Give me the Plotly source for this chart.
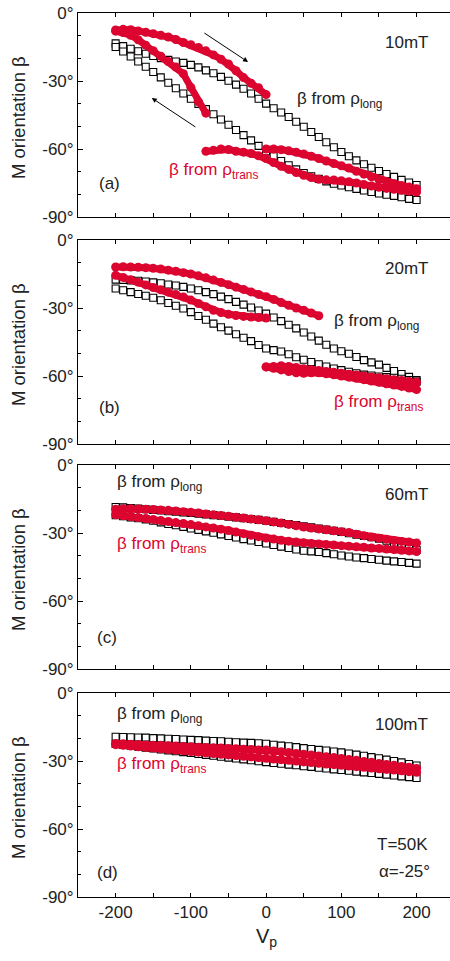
import plotly.graph_objects as go

# ---------------- data ----------------
V_FULL = [-200, -190, -180, -170, -160, -150, -140, -130, -120, -110,
          -100, -90, -80, -70, -60, -50, -40, -30, -20, -10,
          0, 10, 20, 30, 40, 50, 60, 70, 80, 90,
          100, 110, 120, 130, 140, 150, 160, 170, 180, 190, 200]
V_NEG = [-200, -190, -180, -170, -160, -150, -140, -130, -120, -110,
         -100, -90, -80, -70, -60, -50, -40, -30, -20, -10, 0]
V_POS = [0, 10, 20, 30, 40, 50, 60, 70, 80, 90,
         100, 110, 120, 130, 140, 150, 160, 170, 180, 190, 200]
V_NEG80 = [-200, -190, -180, -170, -160, -150, -140, -130, -120, -110, -100, -90, -80]
V_FROM80 = [-80, -70, -60, -50, -40, -30, -20, -10, 0, 10, 20, 30, 40, 50, 60, 70,
            80, 90, 100, 110, 120, 130, 140, 150, 160, 170, 180, 190, 200]
V_TO70 = [-200, -190, -180, -170, -160, -150, -140, -130, -120, -110,
          -100, -90, -80, -70, -60, -50, -40, -30, -20, -10,
          0, 10, 20, 30, 40, 50, 60, 70]

# (a) 10 mT
A_LONG_UP = [-13.4, -14.6, -15.8, -16.9, -18.0, -19.0, -19.9, -20.7, -21.4, -22.0,
             -22.9, -24.0, -25.3, -26.6, -28.2, -29.9, -31.6, -33.4, -35.5, -37.8,
             -40.0, -42.0, -43.9, -45.9, -48.0, -50.2, -52.5, -54.7, -57.0, -59.2,
             -61.3, -63.2, -65.0, -66.7, -68.3, -69.7, -71.0, -72.3, -73.6, -74.8, -75.9]
A_LONG_DN = [-15.0, -17.0, -19.2, -21.4, -23.7, -26.0, -28.4, -30.8, -33.2, -35.5,
             -37.8, -40.1, -42.4, -44.7, -47.0, -49.3, -51.6, -53.9, -56.2, -58.6,
             -61.0, -63.2, -65.3, -67.2, -69.0, -70.6, -72.0, -73.2, -74.3, -75.3,
             -76.1, -76.9, -77.6, -78.3, -79.0, -79.6, -80.2, -80.7, -81.3, -82.0, -82.5]
A_TRANS_FWD1 = [-7.5, -7.2, -7.4, -7.9, -8.5, -9.1, -9.8, -10.6, -11.7, -13.0,
                -14.0, -15.2, -16.7, -18.5, -20.4, -22.5, -25.5, -28.5, -31.0, -33.0, -36.0]
A_TRANS_BWD1 = [-8.0, -8.6, -9.8, -11.8, -14.2, -16.6, -19.1, -21.4, -23.8, -26.8,
                -32.8, -39.2, -44.2]
A_TRANS_FWD2 = [-60.0, -60.0, -60.3, -60.8, -61.4, -62.2, -63.2, -64.2, -65.3, -66.4,
                -67.4, -68.4, -69.8, -71.1, -72.3, -73.5, -74.5, -75.3, -76.1, -76.8, -77.5]
A_TRANS_BWD2 = [-61.0, -60.6, -60.0, -60.2, -61.0, -61.4, -62.0, -63.0, -64.2, -66.0,
                -67.6, -69.0, -70.4, -71.6, -72.6, -73.4, -73.6, -73.7, -74.0, -74.4,
                -75.0, -75.7, -76.3, -76.9, -77.4, -77.8, -78.2, -78.6, -79.0]

# (b) 20 mT
B_LONG_UP = [-17.5, -17.6, -17.8, -18.0, -18.3, -18.7, -19.1, -19.6, -20.1, -20.7,
             -21.4, -22.2, -23.0, -23.9, -25.0, -26.1, -27.3, -28.5, -29.8, -31.1,
             -32.5, -34.2, -35.8, -37.4, -39.0, -40.8, -42.6, -44.4, -46.2, -47.9,
             -49.1, -50.2, -51.6, -53.0, -54.0, -55.0, -56.4, -57.8, -59.1, -60.4, -61.8]
B_LONG_DN = [-21.4, -22.2, -23.0, -23.8, -24.6, -25.5, -26.6, -27.8, -29.0, -30.2,
             -31.8, -33.5, -35.2, -36.9, -38.5, -40.0, -41.6, -43.1, -44.6, -46.3,
             -47.9, -48.6, -49.2, -50.4, -51.7, -52.8, -53.8, -54.8, -55.8, -56.7,
             -57.4, -58.1, -58.8, -59.4, -59.8, -60.2, -60.5, -60.8, -61.2, -61.8, -62.5]
B_TRANS_FWD1 = [-11.9, -11.8, -11.9, -12.0, -12.2, -12.5, -12.8, -13.3, -13.8, -14.4,
                -15.0, -15.8, -16.7, -17.7, -18.7, -19.7, -20.8, -21.8, -22.9, -24.0,
                -25.0, -26.2, -27.6, -28.8, -30.0, -31.0, -32.2, -33.4]
B_TRANS_BWD1 = [-15.6, -16.5, -17.5, -18.6, -19.8, -21.0, -22.0, -23.0, -24.0, -25.1,
                -26.5, -28.0, -29.5, -31.0, -32.0, -32.8, -33.3, -33.7, -34.0, -34.2, -34.4]
B_TRANS_FWD2 = [-56.0, -55.8, -55.5, -55.8, -56.3, -56.8, -57.2, -57.6, -58.0, -58.4,
                -58.8, -59.2, -59.6, -60.0, -60.4, -60.8, -61.2, -61.6, -62.0, -62.4, -62.8]
B_TRANS_BWD2 = [-56.0, -56.6, -57.3, -58.0, -58.6, -58.8, -58.6, -58.6, -59.0, -59.5,
                -60.0, -60.5, -61.0, -61.6, -62.2, -62.8, -63.4, -64.0, -64.6, -65.3, -66.0]

# (c) 60 mT
C_LONG_UP = [-18.5, -18.7, -19.0, -19.2, -19.5, -19.8, -20.1, -20.4, -20.6, -20.9,
             -21.2, -21.5, -21.8, -22.1, -22.4, -22.8, -23.1, -23.5, -23.8, -24.2,
             -24.6, -25.1, -25.6, -26.0, -26.5, -27.0, -27.5, -28.0, -28.5, -29.0,
             -29.5, -30.1, -30.7, -31.3, -31.9, -32.5, -33.4, -34.3, -35.2, -36.3, -37.5]
C_LONG_DN = [-22.2, -22.6, -23.1, -23.5, -24.0, -24.6, -25.3, -26.0, -26.6, -27.3,
             -28.0, -28.6, -29.3, -29.9, -30.6, -31.3, -32.0, -32.7, -33.3, -34.0,
             -34.6, -35.3, -36.0, -36.6, -37.3, -37.8, -38.1, -38.4, -38.9, -39.4,
             -39.9, -40.4, -40.8, -41.1, -41.5, -41.8, -42.2, -42.5, -42.8, -43.2, -43.5]
C_TRANS_UP = [-19.5, -19.3, -19.3, -19.4, -19.5, -19.6, -19.8, -20.0, -20.3, -20.6,
              -20.9, -21.2, -21.6, -22.0, -22.3, -22.6, -23.0, -23.4, -23.8, -24.2,
              -24.6, -25.1, -25.6, -26.2, -26.8, -27.4, -27.8, -28.2, -28.6, -29.0,
              -29.4, -29.8, -30.5, -31.2, -31.8, -32.3, -32.8, -33.3, -33.7, -34.0, -34.4]
C_TRANS_DN = [-22.0, -22.4, -22.8, -23.2, -23.6, -24.0, -24.5, -24.9, -25.4, -25.8,
              -26.3, -26.8, -27.3, -27.8, -28.3, -28.9, -29.6, -30.3, -31.0, -31.6,
              -32.2, -32.7, -33.2, -33.6, -34.0, -34.3, -34.6, -34.8, -35.1, -35.3,
              -35.6, -35.8, -36.1, -36.3, -36.6, -36.8, -37.1, -37.3, -37.6, -37.9, -38.2]

# (d) 100 mT
D_LONG_UP = [-19.3, -19.4, -19.5, -19.6, -19.7, -19.9, -20.0, -20.2, -20.3, -20.5,
             -20.7, -20.8, -21.0, -21.2, -21.3, -21.5, -21.7, -21.9, -22.0, -22.2,
             -22.4, -22.8, -23.2, -23.5, -23.9, -24.3, -24.7, -25.1, -25.4, -25.8,
             -26.2, -26.7, -27.2, -27.7, -28.3, -28.8, -29.4, -30.0, -30.6, -31.3, -32.0]
D_LONG_DN = [-22.5, -22.9, -23.3, -23.7, -24.1, -24.5, -24.9, -25.3, -25.7, -26.1,
             -26.5, -26.9, -27.3, -27.7, -28.1, -28.5, -28.9, -29.3, -29.7, -30.1,
             -30.5, -30.9, -31.2, -31.6, -31.9, -32.3, -32.6, -33.0, -33.3, -33.7,
             -34.0, -34.3, -34.7, -35.0, -35.3, -35.7, -36.0, -36.4, -36.8, -37.1, -37.5]
D_TRANS_UP = [-22.3, -22.4, -22.6, -22.7, -22.9, -23.0, -23.1, -23.3, -23.4, -23.6,
              -23.7, -23.9, -24.0, -24.2, -24.3, -24.5, -24.6, -24.8, -24.9, -25.1,
              -25.2, -25.6, -25.9, -26.3, -26.7, -27.0, -27.4, -27.8, -28.1, -28.5,
              -28.9, -29.3, -29.7, -30.2, -30.6, -31.1, -31.5, -31.9, -32.4, -32.8, -33.3]
D_TRANS_DN = [-22.8, -23.1, -23.4, -23.7, -24.0, -24.3, -24.6, -24.9, -25.2, -25.5,
              -25.8, -26.1, -26.4, -26.7, -27.0, -27.3, -27.6, -27.9, -28.2, -28.5,
              -28.8, -29.1, -29.4, -29.7, -30.0, -30.4, -30.7, -31.0, -31.3, -31.6,
              -31.9, -32.2, -32.5, -32.8, -33.1, -33.4, -33.7, -34.0, -34.3, -34.7, -35.0]

Y_TICKS = [0, -30, -60, -90]
Y_TICKTEXT = ["0°", "-30°", "-60°", "-90°"]
Y_MINOR = [-10, -20, -40, -50, -70, -80]
X_TICKS = [-200, -150, -100, -50, 0, 50, 100, 150, 200]
X_TICKTEXT = ["-200", "", "-100", "", "0", "", "100", "", "200"]

# ---------------- styling ----------------
RED = "#DC0530"
TXT = "#222222"
FONT = "Liberation Sans, Arial, sans-serif"
W, H = 450, 961
PANEL_PX = [(13, 217), (240, 444), (465, 669), (693, 897)]

fig = go.Figure()

def long_trace(i, xs, ys):
    fig.add_trace(go.Scatter(
        x=xs, y=ys, mode="markers", xaxis=f"x{i}", yaxis=f"y{i}",
        marker=dict(symbol="square", size=7, color="white",
                    line=dict(color="black", width=1.1)),
        showlegend=False, hoverinfo="skip"))

def trans_trace(i, xs, ys):
    fig.add_trace(go.Scatter(
        x=xs, y=ys, mode="lines+markers", xaxis=f"x{i}", yaxis=f"y{i}",
        line=dict(color=RED, width=7),
        marker=dict(symbol="circle", size=9, color=RED),
        showlegend=False, hoverinfo="skip"))

# panel a
long_trace(1, V_FULL, A_LONG_UP)
long_trace(1, V_FULL, A_LONG_DN)
trans_trace(1, V_NEG, A_TRANS_FWD1)
trans_trace(1, V_NEG80, A_TRANS_BWD1)
trans_trace(1, V_POS, A_TRANS_FWD2)
trans_trace(1, V_FROM80, A_TRANS_BWD2)
# panel b
long_trace(2, V_FULL, B_LONG_UP)
long_trace(2, V_FULL, B_LONG_DN)
trans_trace(2, V_TO70, B_TRANS_FWD1)
trans_trace(2, V_NEG, B_TRANS_BWD1)
trans_trace(2, V_POS, B_TRANS_FWD2)
trans_trace(2, V_POS, B_TRANS_BWD2)
# panel c
long_trace(3, V_FULL, C_LONG_UP)
long_trace(3, V_FULL, C_LONG_DN)
trans_trace(3, V_FULL, C_TRANS_UP)
trans_trace(3, V_FULL, C_TRANS_DN)
# panel d
long_trace(4, V_FULL, D_LONG_UP)
long_trace(4, V_FULL, D_LONG_DN)
trans_trace(4, V_FULL, D_TRANS_UP)
trans_trace(4, V_FULL, D_TRANS_DN)

layout = dict(
    width=W, height=H,
    margin=dict(l=78, r=0, t=0, b=0, pad=0),
    paper_bgcolor="white", plot_bgcolor="white",
    font=dict(family=FONT, size=17, color=TXT),
    showlegend=False,
)
for i, (top, bot) in enumerate(PANEL_PX, start=1):
    layout[f"xaxis{i}"] = dict(
        domain=[0, 1], range=[-250, 244.4], anchor=f"y{i}",
        showline=True, linecolor="black", linewidth=1, mirror="ticks",
        ticks="inside", ticklen=4, tickcolor="black", tickwidth=1,
        tickvals=X_TICKS, ticktext=X_TICKTEXT,
        showticklabels=(i == 4), showgrid=False, zeroline=False,
        tickfont=dict(size=17, color=TXT), automargin=False,
    )
    layout[f"yaxis{i}"] = dict(
        domain=[1 - bot / H, 1 - top / H], range=[-90, 0], anchor=f"x{i}",
        showline=True, linecolor="black", linewidth=1,
        ticks="inside", ticklen=5, tickcolor="black", tickwidth=1,
        tickvals=Y_TICKS, ticktext=Y_TICKTEXT,
        minor=dict(tickvals=Y_MINOR, ticks="inside", ticklen=3,
                   tickcolor="black", tickwidth=1),
        showgrid=False, zeroline=False,
        tickfont=dict(size=17, color=TXT), automargin=False,
    )
fig.update_layout(**layout)

ann = []
def txt(i, x, y, text, color=TXT, size=17, xanchor="left"):
    ann.append(dict(xref=f"x{i}", yref=f"y{i}", x=x, y=y, text=text,
                    showarrow=False, xanchor=xanchor, yanchor="middle",
                    font=dict(family=FONT, size=size, color=color)))

LONG = "β from ρ<sub>long</sub>"
TRANS = "β from ρ<sub>trans</sub>"
# panel a
txt(1, 218, -13.0, "10mT", xanchor="right")
txt(1, 38, -38.2, LONG)
txt(1, -132, -69.8, TRANS, color=RED)
txt(1, -225, -75, "(a)")
# panel b
txt(2, 218, -12.4, "20mT", xanchor="right")
txt(2, 87, -36.0, LONG)
txt(2, 87, -71.7, TRANS, color=RED)
txt(2, -225, -74.1, "(b)")
# panel c
txt(3, -201, -7.8, LONG)
txt(3, 218, -13.2, "60mT", xanchor="right")
txt(3, -201, -35.2, TRANS, color=RED)
txt(3, -227, -76.3, "(c)")
# panel d
txt(4, -201, -9.5, LONG)
txt(4, 218, -14.1, "100mT", xanchor="right")
txt(4, -201, -31.6, TRANS, color=RED)
txt(4, 218, -67.0, "T=50K", xanchor="right")
txt(4, 220, -78.9, "α=-25°", xanchor="right")
txt(4, -227, -79.4, "(d)")

# arrows in panel a
ann.append(dict(xref="x1", yref="y1", axref="x1", ayref="y1",
                x=-24, y=-21.6, ax=-84, ay=-8.4, text="", showarrow=True,
                arrowhead=2, arrowsize=1, arrowwidth=1, arrowcolor="black"))
ann.append(dict(xref="x1", yref="y1", axref="x1", ayref="y1",
                x=-152, y=-37.5, ax=-92, ay=-50.7, text="", showarrow=True,
                arrowhead=2, arrowsize=1, arrowwidth=1, arrowcolor="black"))

# y axis titles
for i, (top, bot) in enumerate(PANEL_PX, start=1):
    ann.append(dict(xref="paper", yref="paper", x=-60 / 372, y=1 - ((top + bot) / 2 + 3) / H,
                    text="M orientation β", textangle=-90, showarrow=False,
                    xanchor="center", yanchor="middle",
                    font=dict(family=FONT, size=18.5, color=TXT)))
# x axis title
ann.append(dict(xref="paper", yref="paper", x=(266 - 78) / 372, y=1 - 937 / H,
                text="V<sub>p</sub>", showarrow=False, xanchor="center", yanchor="middle",
                font=dict(family=FONT, size=20, color=TXT)))
fig.update_layout(annotations=ann)

fig.write_html("out.html")
